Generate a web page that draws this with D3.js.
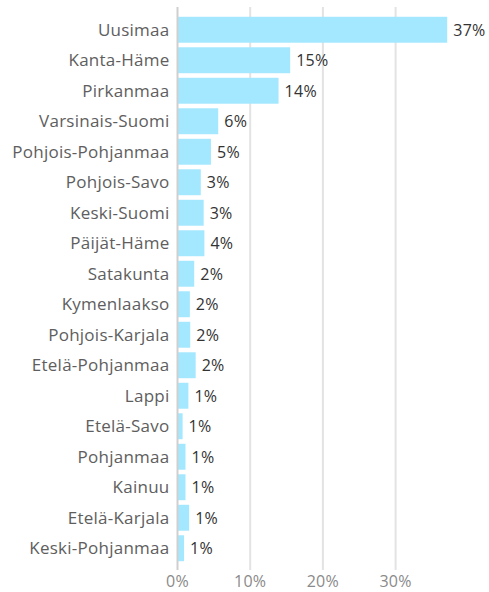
<!doctype html>
<html lang="fi">
<head>
<meta charset="utf-8">
<title>Maakunnat</title>
<script src="https://cdn.jsdelivr.net/npm/d3@7/dist/d3.min.js"></script>
<style>
	body { margin: 0; background: #fff; }
	text { font-family: "Open Sans", sans-serif; }
	.grid line { stroke: #e3e3e3; stroke-width: 2; }
	.cat { fill: #5e5e5e; font-size: 17px; letter-spacing: 0.25px; }
	.val { fill: #333; font-size: 16px; letter-spacing: 0.3px; }
	.tick-label { fill: #8a8a8a; font-size: 16px; letter-spacing: 0.3px; }
</style>
</head>
<body>
<div id="viz"></div>
<script>
var regions = ["Uusimaa", "Kanta-Häme", "Pirkanmaa", "Varsinais-Suomi", "Pohjois-Pohjanmaa",
	"Pohjois-Savo", "Keski-Suomi", "Päijät-Häme", "Satakunta", "Kymenlaakso", "Pohjois-Karjala",
	"Etelä-Pohjanmaa", "Lappi", "Etelä-Savo", "Pohjanmaa", "Kainuu", "Etelä-Karjala", "Keski-Pohjanmaa"];
var shares = [37.1, 15.5, 13.9, 5.6, 4.6, 3.2, 3.6, 3.7, 2.3, 1.7, 1.75, 2.5, 1.5, 0.7, 1.1, 1.1, 1.6, 0.9];
var valueLabels = ["37%", "15%", "14%", "6%", "5%", "3%", "3%", "4%", "2%", "2%", "2%", "2%",
	"1%", "1%", "1%", "1%", "1%", "1%"];
var ticks = [0, 10, 20, 30];

(function(d3) {
	var w = 489, h = 592;
	var x0 = 177.5;

	var xScale = d3.scaleLinear()
		.domain([0, 40])
		.range([x0, x0 + 4 * 72.7]);

	var yScale = d3.scaleBand()
		.domain(regions)
		.range([14.5, 563.5])
		.paddingInner(0.15)
		.paddingOuter(0.075);

	var svg = d3.select("#viz")
		.append("svg")
		.attr("width", w)
		.attr("height", h);

	// grid
	svg.append("g").attr("class", "grid")
		.selectAll("line")
		.data(ticks.slice(1))
		.enter()
		.append("line")
		.attr("x1", function(d) { return xScale(d); })
		.attr("x2", function(d) { return xScale(d); })
		.attr("y1", 7)
		.attr("y2", 570);

	// tick labels
	svg.selectAll("text.tick-label")
		.data(ticks)
		.enter()
		.append("text")
		.attr("class", "tick-label")
		.attr("x", function(d) { return xScale(d); })
		.attr("y", 587)
		.attr("text-anchor", "middle")
		.text(function(d) { return d + "%"; });

	// bars
	svg.selectAll("rect")
		.data(regions)
		.enter()
		.append("rect")
		.attr("x", xScale(0))
		.attr("y", function(d) { return yScale(d); })
		.attr("width", function(d, i) { return xScale(shares[i]) - xScale(0); })
		.attr("height", yScale.bandwidth())
		.style("fill", "#a3e8ff");

	// axis line
	svg.append("line")
		.attr("x1", x0).attr("x2", x0)
		.attr("y1", 7).attr("y2", 570)
		.style("stroke", "#cfcfcf")
		.style("stroke-width", 2);

	// category labels
	svg.selectAll("text.cat")
		.data(regions)
		.enter()
		.append("text")
		.attr("class", "cat")
		.attr("x", 169.5)
		.attr("y", function(d) { return yScale(d) + yScale.bandwidth() / 2; })
		.attr("dy", "0.36em")
		.attr("text-anchor", "end")
		.text(function(d) { return d; });

	// value labels
	svg.selectAll("text.val")
		.data(regions)
		.enter()
		.append("text")
		.attr("class", "val")
		.attr("x", function(d, i) { return xScale(shares[i]) + 6; })
		.attr("y", function(d) { return yScale(d) + yScale.bandwidth() / 2; })
		.attr("dy", "0.36em")
		.text(function(d, i) { return valueLabels[i]; });
})(d3);
</script>
</body>
</html>
